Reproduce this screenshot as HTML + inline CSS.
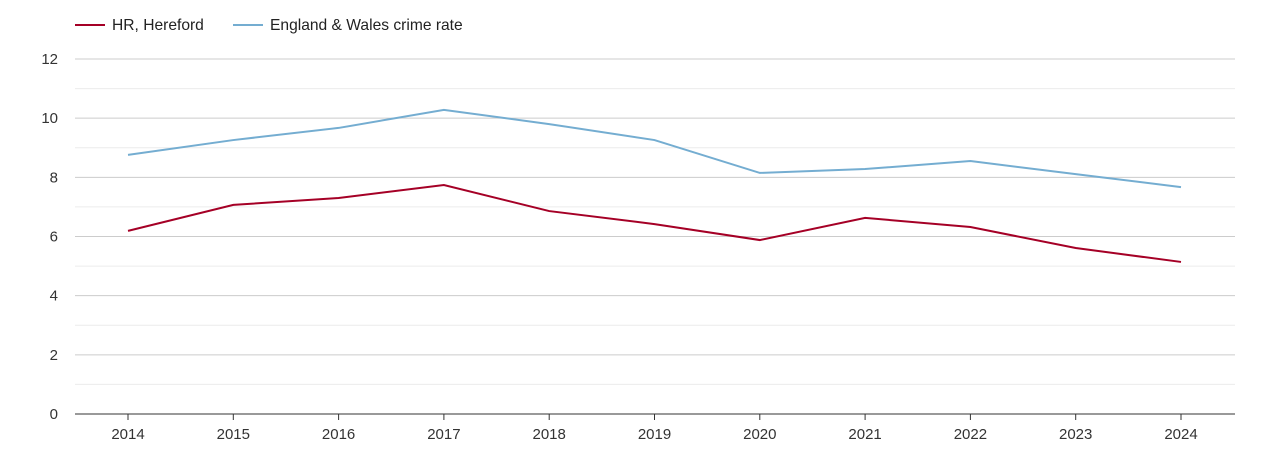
<!DOCTYPE html>
<html><head><meta charset="utf-8">
<style>
body{margin:0;background:#fff;font-family:"Liberation Sans",sans-serif;}
svg text{font-family:"Liberation Sans",sans-serif;}
</style></head>
<body>
<svg id="chart" width="1270" height="450" xmlns="http://www.w3.org/2000/svg">
  <g>
    <g>
      <line x1="75" y1="25" x2="105" y2="25" stroke="#a50026" stroke-width="2"/>
      <text x="112" y="30" font-size="15.6" fill="#222">HR, Hereford</text>
    </g>
    <g>
      <line x1="233" y1="25" x2="263" y2="25" stroke="#74add1" stroke-width="2"/>
      <text x="270" y="30" font-size="15.6" fill="#222">England &amp; Wales crime rate</text>
    </g>
  </g>
  <g id="grid"></g>
  <g id="yaxis"></g>
  <g id="xaxis"></g>
  <g id="series"></g>
</svg>
<script>
const years = [2014,2015,2016,2017,2018,2019,2020,2021,2022,2023,2024];
const hereford = [6.19,7.07,7.30,7.74,6.86,6.42,5.88,6.63,6.32,5.61,5.14];
const englandWales = [8.76,9.26,9.67,10.28,9.80,9.26,8.15,8.28,8.55,8.11,7.67];
const yTicks = [0,2,4,6,8,10,12];

const NS = "http://www.w3.org/2000/svg";
const plotLeft=75, plotRight=1235, plotTop=59, plotBottom=414, yMax=12;
const xFirst=128, xLast=1181;
function xs(i){ return xFirst + (xLast-xFirst)*i/(years.length-1); }
function ys(v){ return plotBottom - (plotBottom-plotTop)*v/yMax; }
function mk(tag, attrs, parent){ const e=document.createElementNS(NS,tag); for(const k in attrs) e.setAttribute(k,attrs[k]); parent.appendChild(e); return e; }

const grid=document.getElementById('grid');
for(let v=1; v<=yMax; v++){
  const l=mk('line',{x1:plotLeft,x2:plotRight,y1:ys(v),y2:ys(v),stroke:(v%2===0)?'#cccccc':'#ececec','stroke-width':1},grid);
  
  
}
const yaxis=document.getElementById('yaxis');
yTicks.forEach(v=>{
  const t=mk('text',{x:58,y:ys(v)+5,'text-anchor':'end','font-size':15,fill:'#333'},yaxis);
  t.textContent=v;
  
  
});
const xaxis=document.getElementById('xaxis');
const base=mk('line',{x1:plotLeft,x2:plotRight,y1:plotBottom,y2:plotBottom,stroke:'#333','stroke-width':1},xaxis);


years.forEach((y,i)=>{
  const tk=mk('line',{x1:xs(i),x2:xs(i),y1:plotBottom,y2:plotBottom+6,stroke:'#333'},xaxis);
  
  
  const t=mk('text',{x:xs(i),y:439,'text-anchor':'middle','font-size':15,fill:'#333'},xaxis);
  t.textContent=y;
  
  
});
const series=document.getElementById('series');
function drawLine(data,color,name){
  const p=mk('polyline',{points:data.map((v,i)=>xs(i)+','+ys(v)).join(' '),fill:'none',stroke:color,'stroke-width':2},series);
  
  
}
drawLine(englandWales,'#74add1','england-wales-line');
drawLine(hereford,'#a50026','hereford-line');
</script>
</body></html>
